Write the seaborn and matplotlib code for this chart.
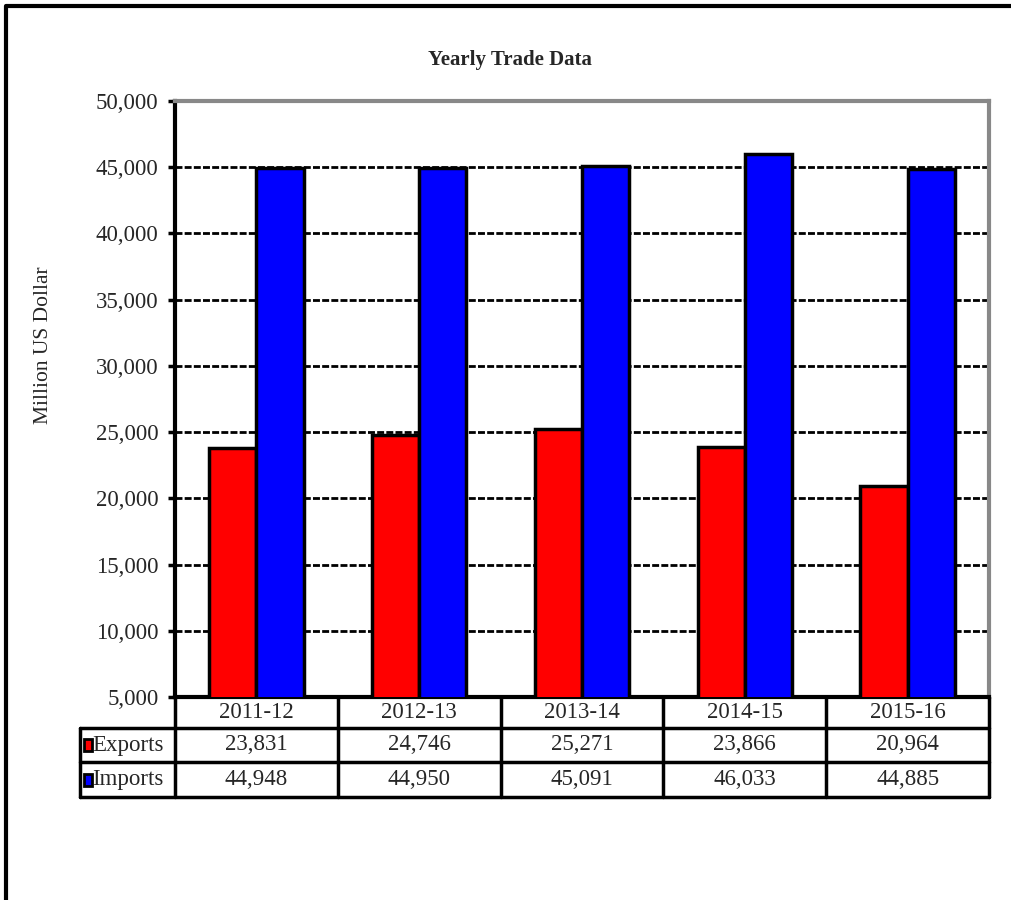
import pandas as pd
import matplotlib
matplotlib.use("Agg")
import matplotlib.pyplot as plt
import seaborn as sns
from matplotlib.lines import Line2D
from matplotlib.patches import Rectangle
from matplotlib.ticker import FuncFormatter, MultipleLocator

years = ["2011-12", "2012-13", "2013-14", "2014-15", "2015-16"]
exports = [23831, 24746, 25271, 23866, 20964]
imports = [44948, 44950, 45091, 46033, 44885]
series = ["Exports", "Imports"]
colors = ["#FF0000", "#0000FF"]

df = pd.DataFrame({
    "year": years * 2,
    "series": ["Exports"] * len(years) + ["Imports"] * len(years),
    "value": exports + imports,
})

sns.set_theme(style="white")
plt.rcParams["font.family"] = ["Liberation Serif", "DejaVu Serif"]

W, H = 1012, 900
fig = plt.figure(figsize=(W / 100, H / 100), dpi=100)
ax = fig.add_axes([175 / W, 1 - 697 / H, 814 / W, 596 / H])

sns.barplot(data=df, x="year", y="value", hue="series", palette=colors,
            saturation=1, width=0.58, gap=0, edgecolor="black", linewidth=2.5,
            legend=False, ax=ax, zorder=3)

ax.set_ylim(5000, 50000)
ax.yaxis.set_major_locator(MultipleLocator(5000))
ax.yaxis.set_major_formatter(FuncFormatter(lambda v, p: f"{int(v):,}"))
ax.set_xlim(-0.5, len(years) - 0.5)
ax.set_xticks([])
ax.set_xlabel("")
ax.set_ylabel("Million US Dollar", fontsize=15.5)
ax.yaxis.set_label_coords(-0.15, 0.59)
ax.tick_params(axis="y", which="major", direction="out", length=5, width=2.5,
               color="black", labelsize=16.5, pad=7, left=True)
ax.grid(axis="y", color="black", linestyle=(0, (2.5, 0.8)), linewidth=2,
        zorder=1)
ax.grid(axis="x", visible=False)

for s in ["left", "bottom"]:
    ax.spines[s].set_color("black")
    ax.spines[s].set_linewidth(3)
for s in ["top", "right"]:
    ax.spines[s].set_color("#888888")
    ax.spines[s].set_linewidth(3)

fig.text(510 / W, 1 - 60 / H, "Yearly Trade Data", fontsize=15,
         fontweight="bold", ha="center", va="center")

# data table below the plot
n = len(years)
tr = ax.transAxes
row_y = [0, -31 / 596, -65 / 596, -100 / 596]
lab_x = -95 / 814
lw = 2.5
kw = dict(transform=tr, clip_on=False, color="black", linewidth=lw, zorder=5)
ax.add_line(Line2D([lab_x, 1], [row_y[1]] * 2, **kw))
ax.add_line(Line2D([lab_x, 1], [row_y[2]] * 2, **kw))
ax.add_line(Line2D([lab_x, 1], [row_y[3]] * 2, **kw))
for i in range(n + 1):
    ax.add_line(Line2D([i / n] * 2, [0, row_y[3]], **kw))
ax.add_line(Line2D([lab_x] * 2, [row_y[1], row_y[3]], **kw))

fs = 16.5
for i, yr in enumerate(years):
    cx = (i + 0.5) / n
    ax.text(cx, (row_y[0] + row_y[1]) / 2, yr, transform=tr, ha="center",
            va="center", fontsize=fs)
    ax.text(cx, (row_y[1] + row_y[2]) / 2, f"{exports[i]:,}", transform=tr,
            ha="center", va="center", fontsize=fs)
    ax.text(cx, (row_y[2] + row_y[3]) / 2, f"{imports[i]:,}", transform=tr,
            ha="center", va="center", fontsize=fs)

for j, (name, c) in enumerate(zip(series, colors)):
    yc = (row_y[j + 1] + row_y[j + 2]) / 2
    ax.add_patch(Rectangle((lab_x + 4 / 814, yc - 6 / 596), 8 / 814, 12 / 596,
                           transform=tr, clip_on=False, facecolor=c,
                           edgecolor="black", linewidth=2, zorder=6))
    ax.text(lab_x + 12 / 814, yc, name, transform=tr, ha="left", va="center",
            fontsize=fs)

# outer chart frame (left and top edges visible)
fig.add_artist(Line2D([6 / W, 6 / W, 1.01], [-0.01, 1 - 6 / H, 1 - 6 / H],
                      transform=fig.transFigure, color="black", linewidth=3))

fig.savefig("out.png", dpi=100)
